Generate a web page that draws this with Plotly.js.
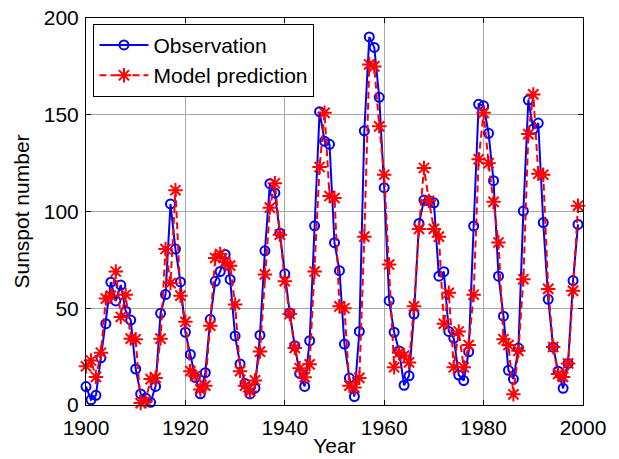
<!DOCTYPE html>
<html>
<head>
<meta charset="utf-8">
<script src="https://cdn.plot.ly/plotly-3.0.1.min.js"></script>
<style>html,body{margin:0;padding:0;background:#fff;}#chart{width:619px;height:459px;}</style>
</head>
<body>
<div id="chart"></div>
<script>
const years = [];
for (let y = 1900; y <= 1999; y++) years.push(y);

const observation = [
  9.5, 2.7, 5.0, 24.4, 42.0, 63.5, 53.8, 62.0, 48.5, 43.9,
  18.6, 5.7, 3.6, 1.4, 9.6, 47.4, 57.1, 103.9, 80.6, 63.6,
  37.6, 26.1, 14.2, 5.8, 16.7, 44.3, 63.9, 69.0, 77.8, 64.9,
  35.7, 21.2, 11.1, 5.7, 8.7, 36.1, 79.7, 114.4, 109.6, 88.8,
  67.8, 47.5, 30.6, 16.3, 9.6, 33.2, 92.6, 151.6, 136.3, 134.7,
  83.9, 69.4, 31.5, 13.9, 4.4, 38.0, 141.7, 190.2, 184.8, 159.0,
  112.3, 53.9, 37.6, 27.9, 10.2, 15.1, 47.0, 93.8, 105.9, 105.5,
  104.5, 66.6, 68.9, 38.0, 34.5, 15.5, 12.6, 27.5, 92.5, 155.4,
  154.6, 140.4, 115.9, 66.6, 45.9, 17.9, 13.4, 29.4, 100.2, 157.6,
  142.6, 145.7, 94.3, 54.6, 29.9, 17.5, 8.6, 21.5, 64.3, 93.3
];

const prediction = [
  20, 23, 14.5, 27, 55, 56.5, 69, 45.5, 57, 34.3,
  34, 1, 2, 13.4, 14, 34.3, 80.6, 63, 111, 56.5,
  43, 17.5, 15, 8, 10, 41, 76, 78, 74, 72,
  52, 17.5, 10, 7, 12.7, 27.6, 67.5, 102, 114.6, 88,
  64, 47, 29.5, 19, 14.4, 21, 69, 123, 151, 108,
  107, 51, 50, 10, 9, 14, 87, 176, 175, 144,
  119, 72.6, 19.5, 27, 25.5, 22, 51, 91, 122.5, 105.5,
  91, 87, 42, 58, 19.5, 38, 19.5, 31, 57, 127,
  151, 125, 105, 84, 34, 31, 5.5, 28, 65, 140,
  160.5, 119.5, 119, 60, 30, 16, 14.5, 21.5, 59, 103
];

const seriesNames = ['Observation', 'Model prediction'];
const xTicks = [1900, 1920, 1940, 1960, 1980, 2000];
const yTicks = [0, 50, 100, 150, 200];

const font = 'Liberation Sans, Arial, Helvetica, sans-serif';

const traces = [
  {
    x: years, y: observation, name: seriesNames[0],
    type: 'scatter', mode: 'lines+markers', cliponaxis: false,
    line: {color: '#0000ff', width: 2},
    marker: {symbol: 'circle-open', size: 9, color: '#0000ff', line: {width: 2, color: '#0000ff'}}
  },
  {
    x: years, y: prediction, name: seriesNames[1],
    type: 'scatter', mode: 'lines+markers', cliponaxis: false,
    line: {color: '#ff0000', width: 2, dash: '7px,4px'},
    marker: {symbol: 'asterisk-open', size: 12, color: '#ff0000', line: {width: 2, color: '#ff0000'}}
  }
];

const axisCommon = {
  showline: true, linecolor: '#000', linewidth: 1, mirror: 'ticks',
  ticks: 'inside', ticklen: 5, tickwidth: 1, tickcolor: '#000',
  showgrid: true, gridcolor: '#a8a8a8', gridwidth: 1,
  zeroline: false,
  tickfont: {family: font, size: 21, color: '#000'}
};

const layout = {
  width: 619, height: 459,
  margin: {l: 86, r: 36, t: 18, b: 54},
  paper_bgcolor: '#fff', plot_bgcolor: '#fff',
  showlegend: true,
  legend: {
    x: 0.015, y: 0.985, xanchor: 'left', yanchor: 'top',
    bgcolor: '#fff', bordercolor: '#000', borderwidth: 1,
    font: {family: font, size: 21, color: '#000'},
    itemwidth: 49, tracegroupgap: 0
  },
  xaxis: Object.assign({}, axisCommon, {
    range: [1900, 2000], tickmode: 'array', tickvals: xTicks, ticktext: xTicks.map(String),
    ticklabelstandoff: 4,
    title: {text: 'Year', font: {family: font, size: 21, color: '#000'}, standoff: 0}
  }),
  yaxis: Object.assign({}, axisCommon, {
    range: [0, 200], tickmode: 'array', tickvals: yTicks, ticktext: yTicks.map(String),
    ticklabelstandoff: 2,
    title: {text: 'Sunspot number', font: {family: font, size: 21, color: '#000'}, standoff: 8}
  })
};

Plotly.newPlot('chart', traces, layout, {displayModeBar: false, staticPlot: true});
</script>
</body>
</html>
